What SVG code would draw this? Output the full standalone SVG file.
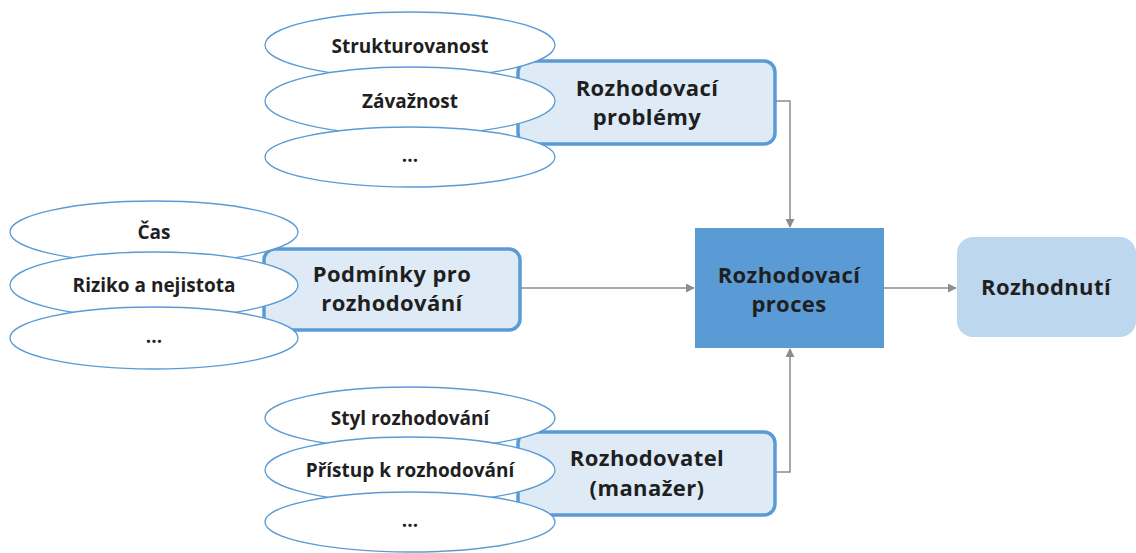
<svg xmlns="http://www.w3.org/2000/svg" width="1136" height="553" viewBox="0 0 1136 553">
<defs>
<style>
.el{fill:#fff;stroke:#5b9bd5;stroke-width:1.3}
.bx{fill:#deebf7;stroke:#5b9bd5;stroke-width:3.5}
.t{font-family:"Open Sans","DejaVu Sans",sans-serif;font-weight:700;fill:#1f1f1f;text-anchor:middle}
.s{font-size:19px}
.b{font-size:22px;letter-spacing:0.4px}
.c{fill:none;stroke:#8c8c8c;stroke-width:1.5}
</style>
<marker id="ah" viewBox="0 0 10 10" refX="9" refY="5" markerWidth="9" markerHeight="9" markerUnits="userSpaceOnUse" orient="auto">
<path d="M0,0 L10,5 L0,10 z" fill="#8c8c8c"/>
</marker>
</defs>
<g id="connectors">
<path class="c" d="M775,101 H790 V227" marker-end="url(#ah)"/>
<path class="c" d="M520,288 H694" marker-end="url(#ah)"/>
<path class="c" d="M775,472 H790 V349" marker-end="url(#ah)"/>
<path class="c" d="M884,288 H956" marker-end="url(#ah)"/>
</g>
<g id="problemy">
<rect class="bx" x="518" y="61" width="257" height="83" rx="11"/>
<text class="t b" x="647" y="96">Rozhodovací</text>
<text class="t b" x="647" y="125">problémy</text>
</g>
<g id="strukturovanost"><ellipse class="el" cx="410" cy="45" rx="145" ry="33"/><text class="t s" x="410" y="53">Strukturovanost</text></g>
<g id="zavaznost"><ellipse class="el" cx="410" cy="101" rx="145" ry="34"/><text class="t s" x="410" y="108">Závažnost</text></g>
<g id="dots1"><ellipse class="el" cx="410" cy="157" rx="145" ry="30"/><text class="t s" x="410" y="162">...</text></g>
<g id="podminky">
<rect class="bx" x="264" y="249" width="256" height="81" rx="11"/>
<text class="t b" x="392" y="282">Podmínky pro</text>
<text class="t b" x="392" y="311">rozhodování</text>
</g>
<g id="cas"><ellipse class="el" cx="154" cy="232" rx="144" ry="31"/><text class="t s" x="154" y="239">Čas</text></g>
<g id="riziko"><ellipse class="el" cx="154" cy="285" rx="144" ry="33"/><text class="t s" x="154" y="292">Riziko a nejistota</text></g>
<g id="dots2"><ellipse class="el" cx="154" cy="338" rx="144" ry="31"/><text class="t s" x="154" y="343">...</text></g>
<g id="rozhodovatel">
<rect class="bx" x="518" y="432" width="257" height="83" rx="11"/>
<text class="t b" x="647" y="466">Rozhodovatel</text>
<text class="t b" x="647" y="496">(manažer)</text>
</g>
<g id="styl"><ellipse class="el" cx="410" cy="418" rx="145" ry="31"/><text class="t s" x="410" y="425">Styl rozhodování</text></g>
<g id="pristup"><ellipse class="el" cx="410" cy="470" rx="145" ry="33"/><text class="t s" x="410" y="477">Přístup k rozhodování</text></g>
<g id="dots3"><ellipse class="el" cx="410" cy="522" rx="145" ry="30"/><text class="t s" x="410" y="527">...</text></g>
<g id="proces">
<rect x="695" y="228" width="189" height="120" fill="#5b9bd5"/>
<text class="t b" x="789" y="283">Rozhodovací</text>
<text class="t b" x="789" y="312">proces</text>
</g>
<g id="rozhodnuti">
<rect x="957" y="237" width="179" height="100" rx="16" fill="#bdd7ee"/>
<text class="t b" x="1046" y="295">Rozhodnutí</text>
</g>
</svg>
